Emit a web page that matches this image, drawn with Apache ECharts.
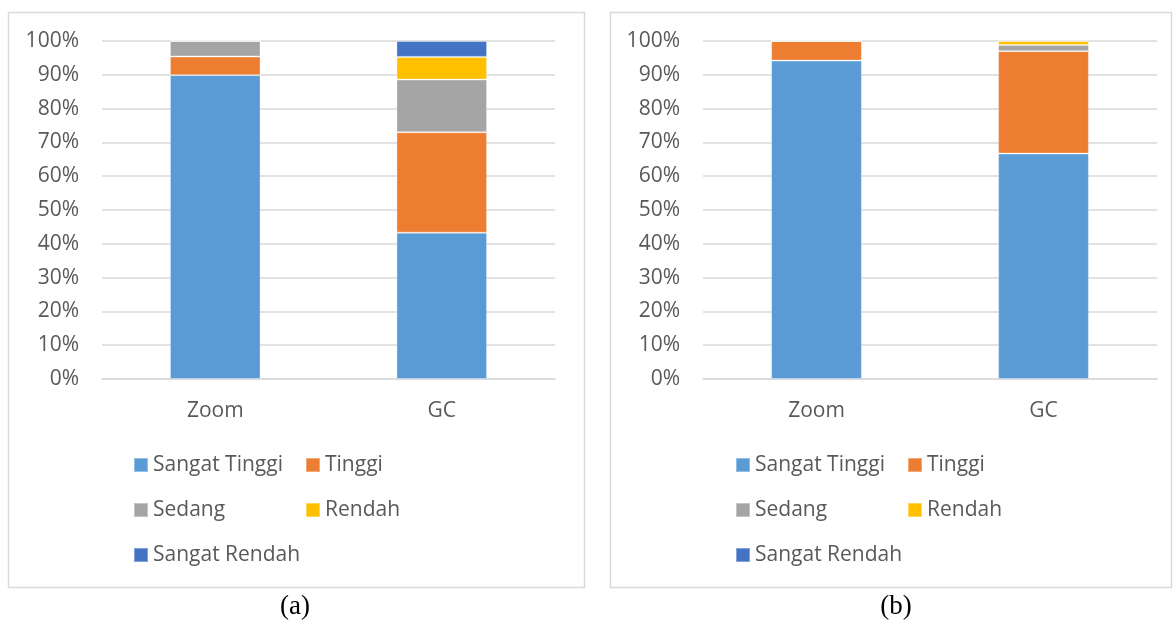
<!DOCTYPE html>
<html>
<head>
<meta charset="utf-8">
<script src="https://cdn.jsdelivr.net/npm/echarts@6/dist/echarts.min.js"></script>
<style>
html,body{margin:0;padding:0;background:#fff;}
#chart{width:1173px;height:620px;}
</style>
</head>
<body>
<div id="chart"></div>
<script>
const categories = ['Zoom', 'GC'];
const seriesNames = ['Sangat Tinggi', 'Tinggi', 'Sedang', 'Rendah', 'Sangat Rendah'];
const colors = ['#5B9BD5', '#ED7D31', '#A5A5A5', '#FFC000', '#4472C4'];
// Panel (a): percentage per category [Zoom, GC]
const aSangatTinggi = [89.9, 43.3];
const aTinggi = [5.5, 29.7];
const aSedang = [4.6, 15.6];
const aRendah = [0, 6.7];
const aSangatRendah = [0, 4.7];
// Panel (b)
const bSangatTinggi = [94.2, 66.7];
const bTinggi = [5.8, 30.3];
const bSedang = [0, 1.8];
const bRendah = [0, 1.2];
const bSangatRendah = [0, 0];
const yTicks = [0, 10, 20, 30, 40, 50, 60, 70, 80, 90, 100];
const panelLabels = ['(a)', '(b)'];

const dataA = [aSangatTinggi, aTinggi, aSedang, aRendah, aSangatRendah];
const dataB = [bSangatTinggi, bTinggi, bSedang, bRendah, bSangatRendah];

const FONT = 'Open Sans';
const TXT = '#595959';
const FS = 21;

const grids = [
  {left: 102, top: 41, width: 453, height: 338},
  {left: 703, top: 41, width: 454, height: 338}
];

function xAxis(i) {
  return {
    type: 'category', gridIndex: i, data: categories,
    axisLine: {lineStyle: {color: '#d9d9d9', width: 1.5}},
    axisTick: {show: false},
    axisLabel: {color: TXT, fontFamily: FONT, fontSize: FS, margin: 22}
  };
}
function yAxis(i) {
  return {
    type: 'value', gridIndex: i, min: yTicks[0], max: yTicks[yTicks.length - 1], interval: 10,
    axisLine: {show: false}, axisTick: {show: false},
    splitLine: {lineStyle: {color: '#d9d9d9', width: 1.5}},
    axisLabel: {color: TXT, fontFamily: FONT, fontSize: FS, margin: 23, formatter: v => v + '%'}
  };
}

const series = [];
[dataA, dataB].forEach((ds, gi) => {
  ds.forEach((vals, si) => {
    series.push({
      name: seriesNames[si], type: 'bar', stack: 'p' + gi,
      xAxisIndex: gi, yAxisIndex: gi, data: vals,
      barWidth: '40%',
      itemStyle: {color: colors[si], borderColor: 'rgba(255,255,255,0.35)', borderWidth: 1},
      emphasis: {disabled: true}
    });
  });
});

const legendPos = [
  {dx: 0, row: 0}, {dx: 172, row: 0},
  {dx: 0, row: 1}, {dx: 172, row: 1},
  {dx: 0, row: 2}
];
const legendBaseX = [133, 735];
const legendRowY = [463, 508, 553];
const legends = [];
legendBaseX.forEach(bx => {
  seriesNames.forEach((n, i) => {
    legends.push({
      data: [n], left: bx + legendPos[i].dx, top: legendRowY[legendPos[i].row] - 10,
      padding: 0,
      itemWidth: 14, itemHeight: 14, itemGap: 0, icon: 'rect',
      selectedMode: false,
      textStyle: {color: TXT, fontFamily: FONT, fontSize: FS, lineHeight: 24}
    });
  });
});

const chart = echarts.init(document.getElementById('chart'));
chart.setOption({
  animation: false,
  grid: grids,
  xAxis: [xAxis(0), xAxis(1)],
  yAxis: [yAxis(0), yAxis(1)],
  legend: legends,
  series: series,
  graphic: [
    {type: 'rect', shape: {x: 8.5, y: 12.5, width: 576, height: 575}, style: {fill: 'none', stroke: '#d9d9d9', lineWidth: 1.5}},
    {type: 'rect', shape: {x: 610.5, y: 12.5, width: 561, height: 575}, style: {fill: 'none', stroke: '#d9d9d9', lineWidth: 1.5}},
    {type: 'text', x: 295, y: 607, style: {text: panelLabels[0], fill: '#000', font: '27px "Liberation Serif"', textAlign: 'center', textVerticalAlign: 'middle'}},
    {type: 'text', x: 896, y: 607, style: {text: panelLabels[1], fill: '#000', font: '27px "Liberation Serif"', textAlign: 'center', textVerticalAlign: 'middle'}}
  ]
});
</script>
</body>
</html>
